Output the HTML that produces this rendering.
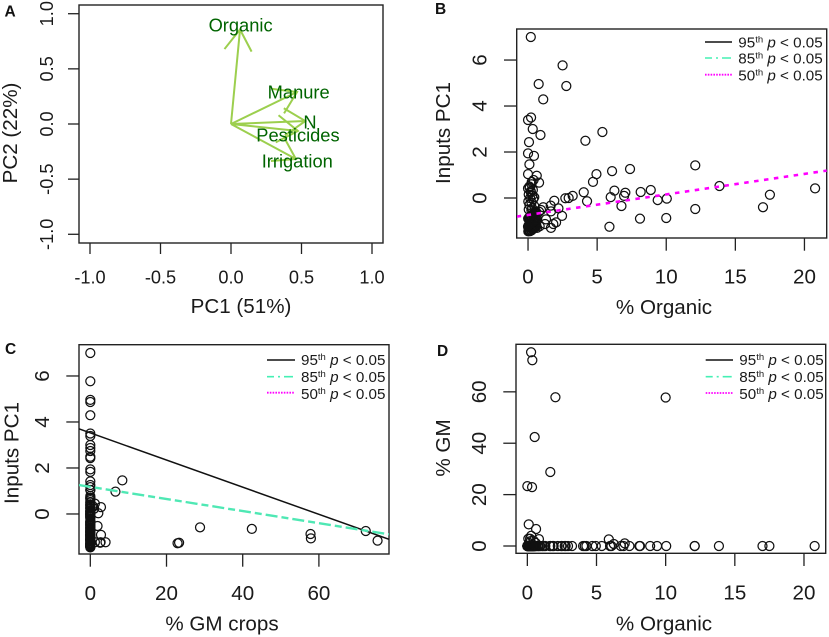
<!DOCTYPE html>
<html lang="en">
<head>
<meta charset="utf-8">
<title>Inputs PC1, organic and GM crop panels</title>
<style>
html,body{margin:0;padding:0;background:#fff;width:829px;height:637px;overflow:hidden}
svg{display:block;filter:blur(0.35px)}
text{font-family:"Liberation Sans",Arial,sans-serif;fill:#1a1a1a}
.axt{font-size:20.6px;text-anchor:middle}
.leg{font-size:15.2px}
.sup{font-size:9.5px}
.pl{font-size:15.5px;font-weight:bold;fill:#111}
.box{fill:none;stroke:#222;stroke-width:1.4}
</style>
</head>
<body>
<svg id="figure" xmlns="http://www.w3.org/2000/svg" width="829" height="637" viewBox="0 0 829 637">
  <rect width="829" height="637" fill="#fff"/>
  <defs>
    <clipPath id="clip-b"><rect x="517" y="29" width="310" height="209"/></clipPath>
    <clipPath id="clip-c"><rect x="79" y="345" width="310" height="209"/></clipPath>
    <clipPath id="clip-d"><rect x="516" y="344" width="310" height="209"/></clipPath>
  </defs>

  <g id="panel-a">
    <text class="pl" x="4.5" y="16.5">A</text>
    <text class="axt" x="241" y="313">PC1 (51%)</text>
    <text class="axt" transform="translate(17 133) rotate(-90)">PC2 (22%)</text>
  </g>

  <g id="panel-b">
    <text class="pl" x="435" y="14">B</text>
    <text class="axt" x="664" y="314">% Organic</text>
    <text class="axt" transform="translate(450 133) rotate(-90)">Inputs PC1</text>
  </g>

  <g id="panel-c">
    <text class="pl" x="5" y="354">C</text>
    <text class="axt" x="222" y="630.7">% GM crops</text>
    <text class="axt" transform="translate(18.5 453) rotate(-90)">Inputs PC1</text>
  </g>

  <g id="panel-d">
    <text class="pl" x="437" y="356">D</text>
    <text class="axt" x="664" y="630.7">% Organic</text>
    <text class="axt" transform="translate(450 448) rotate(-90)">% GM</text>
  </g>

  <g id="legend-b">
    <line x1="705" x2="732" y1="42" y2="42" stroke="#111" stroke-width="1.6"/>
    <line x1="705" x2="732" y1="58" y2="58" stroke="#45f0b4" stroke-width="1.6" stroke-dasharray="7 4 2 4 9"/>
    <line x1="705" x2="732" y1="74.7" y2="74.7" stroke="#ff00ff" stroke-width="1.8" stroke-dasharray="1.6 1.2"/>
    <text class="leg" x="738.3" y="47.3">95<tspan class="sup" dy="-5">th</tspan><tspan dy="5"> </tspan><tspan font-style="italic">p</tspan> &lt; 0.05</text>
    <text class="leg" x="738.3" y="63.7">85<tspan class="sup" dy="-5">th</tspan><tspan dy="5"> </tspan><tspan font-style="italic">p</tspan> &lt; 0.05</text>
    <text class="leg" x="738.3" y="80.3">50<tspan class="sup" dy="-5">th</tspan><tspan dy="5"> </tspan><tspan font-style="italic">p</tspan> &lt; 0.05</text>
  </g>

  <g id="legend-c">
    <line x1="267" x2="295" y1="360" y2="360" stroke="#111" stroke-width="1.6"/>
    <line x1="267" x2="295" y1="376.7" y2="376.7" stroke="#45f0b4" stroke-width="1.6" stroke-dasharray="7 4 2 4 9"/>
    <line x1="267" x2="295" y1="392.7" y2="392.7" stroke="#ff00ff" stroke-width="1.8" stroke-dasharray="1.6 1.2"/>
    <text class="leg" x="301" y="365">95<tspan class="sup" dy="-5">th</tspan><tspan dy="5"> </tspan><tspan font-style="italic">p</tspan> &lt; 0.05</text>
    <text class="leg" x="301" y="382.2">85<tspan class="sup" dy="-5">th</tspan><tspan dy="5"> </tspan><tspan font-style="italic">p</tspan> &lt; 0.05</text>
    <text class="leg" x="301" y="399">50<tspan class="sup" dy="-5">th</tspan><tspan dy="5"> </tspan><tspan font-style="italic">p</tspan> &lt; 0.05</text>
  </g>

  <g id="legend-d">
    <line x1="705.7" x2="733" y1="360" y2="360" stroke="#111" stroke-width="1.6"/>
    <line x1="705.7" x2="733" y1="376.7" y2="376.7" stroke="#45f0b4" stroke-width="1.6" stroke-dasharray="7 4 2 4 9"/>
    <line x1="705.7" x2="733" y1="393" y2="393" stroke="#ff00ff" stroke-width="1.8" stroke-dasharray="1.6 1.2"/>
    <text class="leg" x="739.3" y="365">95<tspan class="sup" dy="-5">th</tspan><tspan dy="5"> </tspan><tspan font-style="italic">p</tspan> &lt; 0.05</text>
    <text class="leg" x="739.3" y="382">85<tspan class="sup" dy="-5">th</tspan><tspan dy="5"> </tspan><tspan font-style="italic">p</tspan> &lt; 0.05</text>
    <text class="leg" x="739.3" y="399">50<tspan class="sup" dy="-5">th</tspan><tspan dy="5"> </tspan><tspan font-style="italic">p</tspan> &lt; 0.05</text>
  </g>
</svg>

<script>
// Panel A: PCA loadings
const loadingNames = ["Organic", "Manure", "N", "Pesticides", "Irrigation"];
const loadingPC1 = [0.064, 0.468, 0.527, 0.475, 0.46];
const loadingPC2 = [0.857, 0.29, 0.027, -0.063, -0.317];
const labelPC1 = [0.068, 0.48, 0.56, 0.475, 0.47];
const labelPC2 = [0.837, 0.231, -0.041, -0.16, -0.396];
const ticksA = [-1, -0.5, 0, 0.5, 1];
const tickLabelsA = ["-1.0", "-0.5", "0.0", "0.5", "1.0"];

// Panels B, C, D: one value per observation, in shared order
const organic = [0.2,2.5,0.77,2.77,1.1,0.22,0,0.34,0.9,0.07,5.38,4.15,0,0.43,0.1,0,0.63,0.4,0.8,0.27,0,0.12,0.2,0.45,4.95,4.7,6.08,7.38,12.1,13.85,20.77,17.5,17,12.1,10.04,10,8.1,9.38,8.88,8.15,7.04,6.95,6.25,5.98,6.76,5.89,4.03,4.27,3.23,2.94,2.7,1.9,2.2,1.64,1.1,1.66,2.46,2.03,1.83,1.66,1.3,1.23,0.94,0.8,0.65,0.65,0.6,0.27,0.36,0.53,0,0.34,0.24,0.07,0.84,0.28,
  0.02,0.05,0.1,0.15,0.2,0.25,0.3,0.35,0.4,0.45,0.5,0.55,0.03,0.08,0.13,0.18,0.23,0.28,0.33,0.38,0.43,0.48,0.53,0.58,0.01,0.06,0.11,0.16,0.21,0.26,0.31,0.36,0.41,0.46,0.51,0.56,
  0.05,0.3,0.45,0.1,0.25,0.02,0.38,0.15,0.3,0.05,0.2,0.35,0.1,0.25];
const inputs = [7,5.77,4.96,4.87,4.29,3.5,3.39,3,2.74,2.43,2.87,2.49,1.94,1.83,1.46,1.04,0.97,0.78,0.67,0.7,0.42,0.45,0.3,0.03,1.04,0.7,1.17,1.26,1.42,0.52,0.42,0.14,-0.4,-0.48,-0.03,-0.87,-0.9,-0.09,0.35,0.26,0.23,0.09,0.32,0.04,-0.35,-1.25,0.25,-0.14,0.09,0,-0.01,-0.12,-0.45,-0.33,-0.4,-0.58,-0.78,-1.06,-1.13,-1.3,-0.93,-1.13,-0.52,-0.6,-0.9,-1.3,-1.23,-1.16,-0.74,-0.65,-1.25,-1.27,-0.52,-0.91,-1.23,-1.23,
  -1.45,-1.42,-1.4,-1.44,-1.38,-1.41,-1.36,-1.35,-1.32,-1.3,-1.28,-1.25,-1.2,-1.18,-1.15,-1.12,-1.1,-1.08,-1.05,-1.02,-1.0,-0.98,-0.95,-0.92,-0.9,-0.86,-0.84,-0.8,-0.78,-0.76,-0.72,-0.7,-0.68,-0.64,-0.62,-0.58,
  -0.5,-0.45,-0.35,-0.3,-0.2,-0.15,-0.05,0,0.1,0.15,0.25,0.35,0.5,0.6];
const gm = [0,0,0,0,0,0,0,0,0,0,0,0,0,0,8.4,0,6.6,0,0,0,0,1.2,2.8,2.1,0,0,0,0,0,0,0,0,0,0,0,57.8,0,0,0,0,1,0,0.8,0,0,2.6,0,0,0,0,0,0,0,0,0,28.8,0,57.9,0,0,0,0,0,0,0,0,1.2,75.4,72.3,42.4,23.3,22.9,1.9,2.8,2.7,4,
  0,0,0,0,0,0,0,0,0,0,0,0,0,0,0,0,0,0,0,0,0,0,0,0,0,0,0,0,0,0,0,0,0,0,0,0,
  0,0,0,0,0,0,0,0,0,0,0,0,0,0];

// Quantile regression fits: intercepts and slopes
const fitBMedianIntercept = -0.737;
const fitBMedianSlope = 0.0892;
const fitC95Intercept = 3.525;
const fitC95Slope = -0.059;
const fitC85Intercept = 1.18;
const fitC85Slope = -0.02634;

const ticksOrganic = [0, 5, 10, 15, 20];
const ticksInputs = [0, 2, 4, 6];
const ticksGmX = [0, 20, 40, 60];
const ticksGmY = [0, 20, 40, 60];

const NS = "http://www.w3.org/2000/svg";

function make(parent, tag, attrs) {
  const el = document.createElementNS(NS, tag);
  for (const k in attrs) el.setAttribute(k, attrs[k]);
  parent.appendChild(el);
  return el;
}

function linear(d0, d1, r0, r1) {
  return function (v) { return r0 + (v - d0) * (r1 - r0) / (d1 - d0); };
}

function drawFrame(g, p) {
  const box = make(g, "rect", {class: "box", x: p.l, y: p.t, width: p.r - p.l, height: p.b - p.t});
  
  
  p.xTicks.forEach(function (v, i) {
    const tick = make(g, "line", {x1: p.x(v), x2: p.x(v), y1: p.b, y2: p.b + p.tl, stroke: "#222", "stroke-width": 1.3});
    
    
    const lab = make(g, "text", {x: p.x(v), y: p.xLabelY, "text-anchor": "middle", "font-size": p.fs});
    lab.textContent = p.xLabels ? p.xLabels[i] : String(v);
    
    
  });
  p.yTicks.forEach(function (v, i) {
    const tick = make(g, "line", {x1: p.l - p.tl, x2: p.l, y1: p.y(v), y2: p.y(v), stroke: "#222", "stroke-width": 1.3});
    
    
    const lab = make(g, "text", {transform: "translate(" + p.yLabelX + " " + p.y(v) + ") rotate(-90)", "text-anchor": "middle", "font-size": p.fs});
    lab.textContent = p.yLabels ? p.yLabels[i] : String(v);
    
    
  });
}

function drawPoints(g, p, xs, ys) {
  const layer = make(g, "g", {});
  
  
  xs.forEach(function (xv, i) {
    const c = make(layer, "circle", {cx: p.x(xv), cy: p.y(ys[i]), r: 4.5, fill: "none", stroke: "#111", "stroke-width": 1.25});
    
    
  });
}

function drawFit(g, p, intercept, slope, attrs, clipId) {
  const base = {x1: p.l, x2: p.r, y1: p.y(intercept + slope * p.xd[0]), y2: p.y(intercept + slope * p.xd[1]), "clip-path": "url(#" + clipId + ")"};
  for (const k in attrs) base[k] = attrs[k];
  const line = make(g, "line", base);
  
  
}

function panel(l, r, t, b, xd, yd, extra) {
  const p = {l: l, r: r, t: t, b: b, xd: xd, yd: yd, x: linear(xd[0], xd[1], l, r), y: linear(yd[0], yd[1], b, t)};
  for (const k in extra) p[k] = extra[k];
  return p;
}

// Panel A
const pA = panel(79, 383, 5, 243, [-1.078, 1.078], [-1.079, 1.079], {
  tl: 11, fs: 18.2, xTicks: ticksA, yTicks: ticksA, xLabels: tickLabelsA, yLabels: tickLabelsA, xLabelY: 283.5, yLabelX: 53
});
const gA = document.getElementById("panel-a");
drawFrame(gA, pA);
const headLen = 25;
const headAngle = 33 * Math.PI / 180;
loadingNames.forEach(function (name, i) {
  const x0 = pA.x(0), y0 = pA.y(0), x1 = pA.x(loadingPC1[i]), y1 = pA.y(loadingPC2[i]);
  const back = Math.atan2(y0 - y1, x0 - x1);
  const a = make(gA, "path", {
    d: "M" + x0 + " " + y0 + "L" + x1 + " " + y1 +
       "M" + (x1 + headLen * Math.cos(back + headAngle)) + " " + (y1 + headLen * Math.sin(back + headAngle)) +
       "L" + x1 + " " + y1 +
       "L" + (x1 + headLen * Math.cos(back - headAngle)) + " " + (y1 + headLen * Math.sin(back - headAngle)),
    fill: "none", stroke: "#9ccf4e", "stroke-width": 2
  });
  
  
});
loadingNames.forEach(function (name, i) {
  const t = make(gA, "text", {x: pA.x(labelPC1[i]), y: pA.y(labelPC2[i]), "text-anchor": "middle", "font-size": 18.3, style: "fill:#006400"});
  t.textContent = name;
  
  
});

// Panel B
const pB = panel(516.7, 826.7, 29, 238, [-0.82, 21.61], [-1.74, 7.35], {
  tl: 12.7, fs: 20.6, xTicks: ticksOrganic, yTicks: ticksInputs, xLabelY: 283.5, yLabelX: 486.7
});
const gB = document.getElementById("panel-b");
drawFrame(gB, pB);
drawPoints(gB, pB, organic, inputs);
drawFit(gB, pB, fitBMedianIntercept, fitBMedianSlope, {stroke: "#ff00ff", "stroke-width": 2.6, "stroke-dasharray": "4.5 5.5"}, "clip-b");

// Panel C
const pC = panel(79, 389, 344.7, 554, [-2.97, 78.4], [-1.74, 7.36], {
  tl: 12.7, fs: 20.6, xTicks: ticksGmX, yTicks: ticksInputs, xLabelY: 600, yLabelX: 49
});
const gC = document.getElementById("panel-c");
drawFrame(gC, pC);
drawPoints(gC, pC, gm, inputs);
drawFit(gC, pC, fitC95Intercept, fitC95Slope, {stroke: "#111", "stroke-width": 1.5}, "clip-c");
drawFit(gC, pC, fitC85Intercept, fitC85Slope, {stroke: "#4fe8b4", "stroke-width": 2.4, "stroke-dasharray": "12 4 7 4"}, "clip-c");

// Panel D
const pD = panel(516, 825.7, 344.3, 553.3, [-0.82, 21.57], [-2.84, 78.5], {
  tl: 12.7, fs: 20.6, xTicks: ticksOrganic, yTicks: ticksGmY, xLabelY: 599.5, yLabelX: 486
});
const gD = document.getElementById("panel-d");
drawFrame(gD, pD);
drawPoints(gD, pD, organic, gm);
</script>
</body>
</html>
